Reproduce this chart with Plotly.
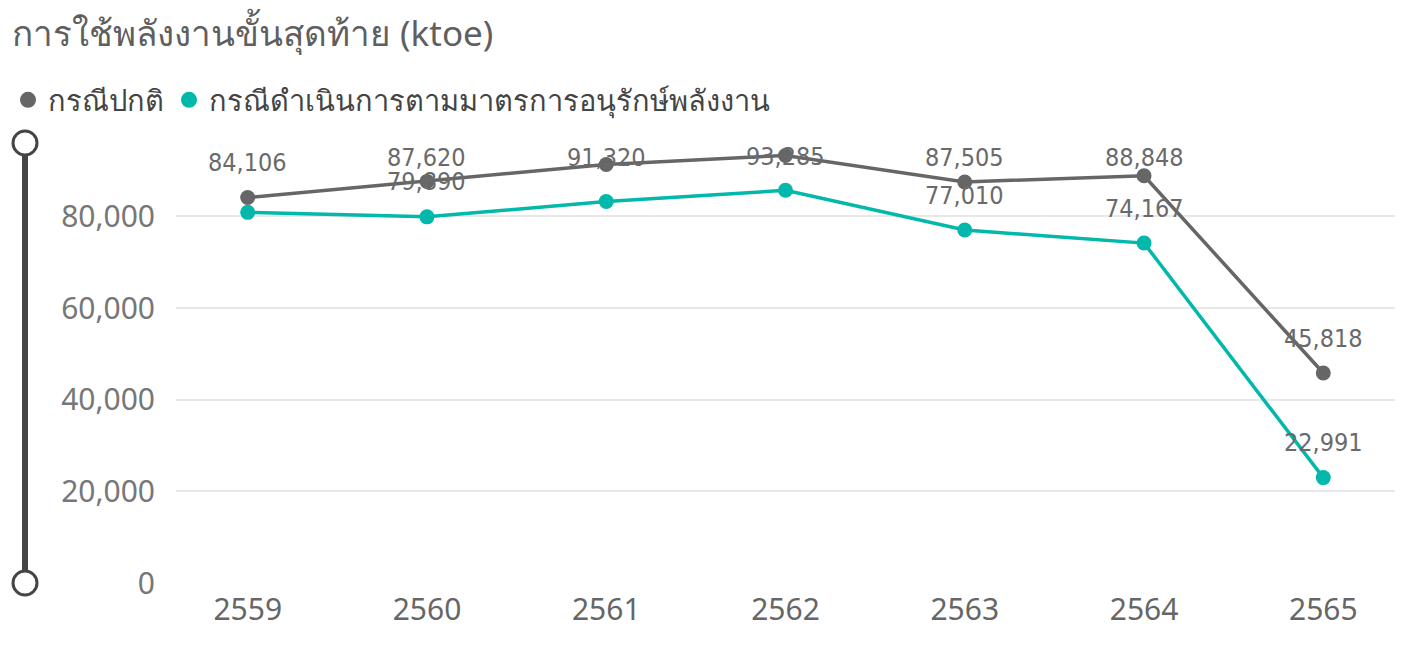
import plotly.graph_objects as go

years = ["2559", "2560", "2561", "2562", "2563", "2564", "2565"]
normal = [84106, 87620, 91320, 93285, 87505, 88848, 45818]
conserve = [80870, 79890, 83240, 85680, 77010, 74167, 22991]
# labels shown for the conservation series (others hidden in the original due to overlap)
conserve_show = [False, True, False, False, True, True, True]

title_text = "การใช้พลังงานขั้นสุดท้าย (ktoe)"
name_normal = "กรณีปกติ"
name_conserve = "กรณีดำเนินการตามมาตรการอนุรักษ์พลังงาน"

GRAY = "#666666"
TEAL = "#01B8AA"
LABEL_FONT = dict(family="DejaVu Sans Condensed, DejaVu Sans", size=25, color="#6a6a6a")

OFF = 8  # page body margin
W, H = 1409 - OFF, 650 - OFF
L, R, T, B = 176 - OFF, 14, 143 - OFF, 67
pw = W - L - R
ph = H - T - B
YMAX = 96000

fig = go.Figure()
fig.add_trace(go.Scatter(x=years, y=normal, name=name_normal, mode="lines+markers", showlegend=False,
                         line=dict(color=GRAY, width=3.5), marker=dict(size=15, color=GRAY)))
fig.add_trace(go.Scatter(x=years, y=conserve, name=name_conserve, mode="lines+markers", showlegend=False,
                         line=dict(color=TEAL, width=3.5), marker=dict(size=15, color=TEAL)))
# legend entries (circle only)
fig.add_trace(go.Scatter(x=[None], y=[None], name=name_normal, mode="markers",
                         marker=dict(size=17, color=GRAY)))
fig.add_trace(go.Scatter(x=[None], y=[None], name=name_conserve, mode="markers",
                         marker=dict(size=17, color=TEAL)))


def label_shift(v):
    # labels sit ~35px above the point but are kept inside the plot area
    depth = ph * (1 - v / YMAX)  # px below plot top
    return min(35, depth - 14)


for i, y in enumerate(normal):
    fig.add_annotation(x=i, y=y, text=f"{y:,}", showarrow=False, yshift=label_shift(y),
                       yanchor="middle", font=LABEL_FONT)
for i, (y, s) in enumerate(zip(conserve, conserve_show)):
    if s:
        fig.add_annotation(x=i, y=y, text=f"{y:,}", showarrow=False, yshift=label_shift(y),
                           yanchor="middle", font=LABEL_FONT)

sx = (25 - 176) / pw
fig.add_shape(type="line", xref="paper", yref="paper", x0=sx, x1=sx, y0=0, y1=1,
              line=dict(color="#454545", width=6))
for yy in (0, 1):
    fig.add_shape(type="circle", xref="paper", yref="paper", xsizemode="pixel", ysizemode="pixel",
                  xanchor=sx, yanchor=yy, x0=-12, x1=12, y0=-12, y1=12,
                  line=dict(color="#454545", width=3), fillcolor="white")

fig.update_layout(
    width=W, height=H,
    margin=dict(l=L, r=R, t=T, b=B, autoexpand=False),
    paper_bgcolor="white", plot_bgcolor="white",
    font=dict(family="Noto Sans, Open Sans, sans-serif", color="#666666"),
    title=dict(text=title_text, xref="container", yref="container", x=(12 - OFF) / W, xanchor="left",
               y=1 - (34 - OFF) / H, yanchor="middle", font=dict(size=35, color="#5f5f5f")),
    legend=dict(orientation="h", xref="container", yref="container", x=(-6 - OFF) / W, xanchor="left",
                y=1 - (100 - OFF) / H, yanchor="middle",
                font=dict(size=29, color="#444444"), itemwidth=30, tracegroupgap=0,
                traceorder="normal"),
    showlegend=True,
    xaxis=dict(type="category", range=[-0.4, 6.4], showgrid=False, zeroline=False, showline=False,
               ticks="", tickfont=dict(size=30, color="#666666"), ticklabelstandoff=6),
    yaxis=dict(range=[0, YMAX], tickvals=[0, 20000, 40000, 60000, 80000],
               ticktext=["0", "20,000", "40,000", "60,000", "80,000"],
               showgrid=True, gridcolor="#e8e8e8", gridwidth=2, zeroline=False, showline=False,
               tickfont=dict(size=30, color="#777777"), ticks="", ticklabelstandoff=20),
)

fig.write_html("out.html")
